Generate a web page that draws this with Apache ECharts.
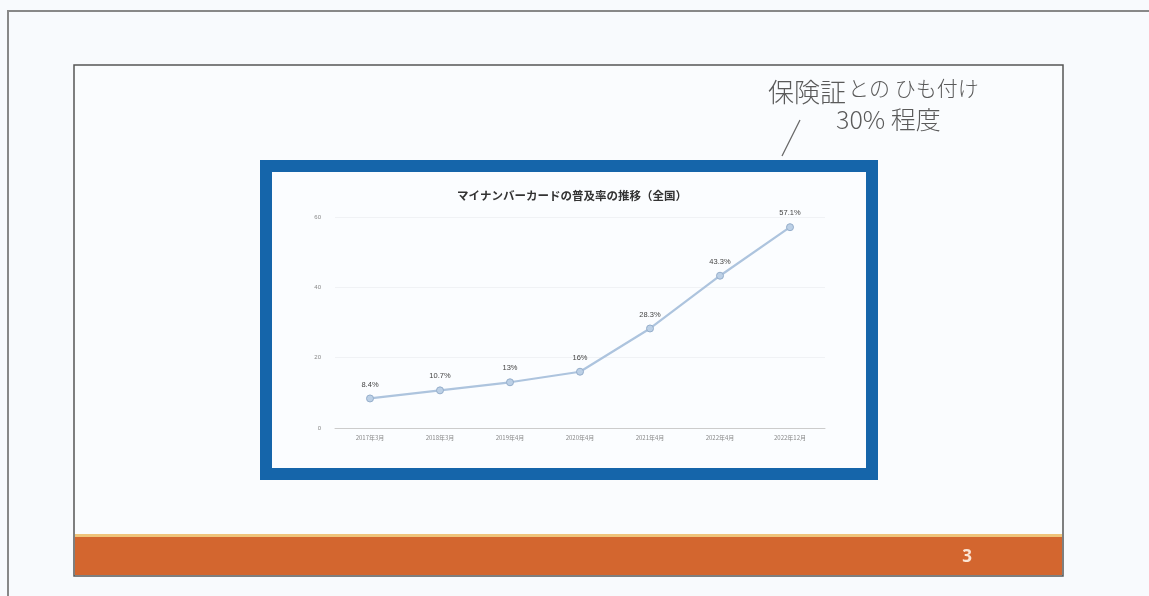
<!DOCTYPE html>
<html>
<head>
<meta charset="utf-8">
<script src="https://cdn.jsdelivr.net/npm/echarts@6/dist/echarts.min.js"></script>
<style>
html,body{margin:0;padding:0;background:#f8fafd;}
#c{width:1149px;height:596px;}
</style>
</head>
<body>
<div id="c"></div>
<script>
const categories = ['2017年3月','2018年3月','2019年4月','2020年4月','2021年4月','2022年4月','2022年12月'];
const values = [8.4, 10.7, 13, 16, 28.3, 43.3, 57.1];
const valueLabels = ['8.4%','10.7%','13%','16%','28.3%','43.3%','57.1%'];
const yTicks = [0, 20, 40, 60];
const chartTitle = 'マイナンバーカードの普及率の推移（全国）';
const noteLine1a = '保険証';
const noteLine1b = 'との ひも付け';
const noteLine2 = '30% 程度';
const pageNumber = '3';

const chart = echarts.init(document.getElementById('c'));
chart.setOption({
  backgroundColor: '#f8fafd',
  animation: false,
  title: {
    text: chartTitle,
    left: 567, top: 185, textAlign: 'center',
    textStyle: {fontSize: 11.5, fontWeight: 'bold', color: '#333', fontFamily: 'Noto Sans CJK JP'}
  },
  grid: {left: 335, right: 1149 - 825, top: 217, bottom: 596 - 428},
  xAxis: {
    type: 'category', data: categories, boundaryGap: true,
    axisLine: {lineStyle: {color: '#ccc'}},
    axisTick: {show: false},
    axisLabel: {fontSize: 6, color: '#888', margin: 7, fontFamily: 'Noto Sans CJK JP'}
  },
  yAxis: {
    type: 'value', min: yTicks[0], max: yTicks[yTicks.length - 1], interval: 20,
    axisLine: {show: false}, axisTick: {show: false},
    axisLabel: {fontSize: 6, color: '#888', margin: 14},
    splitLine: {lineStyle: {color: '#f0f2f5'}}
  },
  series: [{
    type: 'line', data: values,
    symbol: 'circle', symbolSize: 7,
    lineStyle: {color: '#adc4de', width: 2.2},
    itemStyle: {color: '#bcd0e6', borderColor: '#95aecb', borderWidth: 1},
    label: {
      show: true, position: 'top', distance: 6, fontSize: 7.5, color: '#444',
      formatter: p => valueLabels[p.dataIndex]
    }
  }],
  graphic: [
    {type: 'polyline', shape: {points: [[8, 596], [8, 11], [1149, 11]]}, style: {stroke: '#888', lineWidth: 2, fill: null}, z: -10},
    {type: 'rect', shape: {x: 74, y: 65, width: 989, height: 511}, style: {fill: '#fafcfe', stroke: '#555', lineWidth: 1.5}, z: -9},
    {type: 'rect', shape: {x: 75, y: 534, width: 987, height: 4}, style: {fill: '#efc47a'}, z: -8},
    {type: 'rect', shape: {x: 75, y: 537, width: 987, height: 38}, style: {fill: '#d3662f'}, z: -8},
    {type: 'text', x: 967, y: 557, style: {text: pageNumber, fill: '#fbe6d6', fontSize: 17, fontWeight: 'bold', fontFamily: 'Open Sans', align: 'center', verticalAlign: 'middle'}, z: -7},
    {type: 'rect', shape: {x: 266, y: 166, width: 606, height: 308}, style: {fill: '#fbfdff', stroke: '#1565aa', lineWidth: 12}, z: -6},
    {type: 'text', x: 768, y: 92, style: {text: noteLine1a, fill: '#5a5a5a', fontSize: 26, fontFamily: 'Noto Sans CJK JP', fontWeight: 300, verticalAlign: 'middle'}, z: 5},
    {type: 'text', x: 848, y: 88, style: {text: noteLine1b, fill: '#5a5a5a', fontSize: 21, fontFamily: 'Noto Sans CJK JP', fontWeight: 300, verticalAlign: 'middle'}, z: 5},
    {type: 'text', x: 836, y: 119, style: {text: noteLine2, fill: '#5a5a5a', fontSize: 25, fontFamily: 'Noto Sans CJK JP', fontWeight: 300, verticalAlign: 'middle'}, z: 5},
    {type: 'line', shape: {x1: 782, y1: 156, x2: 800, y2: 120}, style: {stroke: '#666', lineWidth: 1.2}, z: 5}
  ]
});
</script>
</body>
</html>
